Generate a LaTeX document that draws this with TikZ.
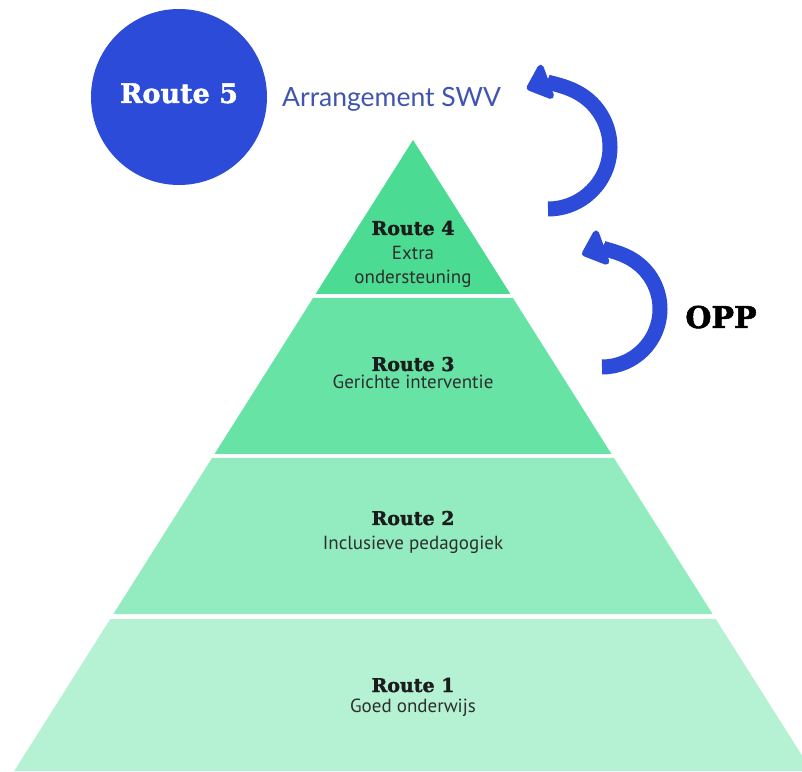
\documentclass[tikz,border=0pt]{standalone}
\usepackage{fontspec}
\usetikzlibrary{arrows.meta}
\newfontfamily\slabfont{DejaVu Serif Bold}[FakeBold=1.6]
\newfontfamily\labelfont{PT Sans}
\newfontfamily\titlefont{Lato}
\definecolor{lvlA}{HTML}{4CDB92}
\definecolor{lvlB}{HTML}{68E3A6}
\definecolor{lvlC}{HTML}{93ECC0}
\definecolor{lvlD}{HTML}{B5F2D4}
\definecolor{routeblue}{HTML}{2C4BD8}
\definecolor{swvblue}{HTML}{3F55B0}
\definecolor{darktxt}{HTML}{1C1C1C}
\definecolor{labtxt}{HTML}{2E2E2E}
\tikzset{
  routetitle/.style={font=\slabfont\fontsize{19}{22}\selectfont, text=darktxt, anchor=base, inner sep=0pt},
  routesub/.style={font=\labelfont\fontsize{19}{22}\selectfont, text=labtxt, anchor=base, inner sep=0pt},
  bluearrow/.style={draw=routeblue, line width=15pt, -{Triangle[length=25pt,width=42pt,round]}},
}
\begin{document}
\begin{tikzpicture}[x=1pt,y=1pt]
\useasboundingbox (0,0) rectangle (802,771);
\fill[white] (0,0) rectangle (802,771);
\begin{scope}
\clip (0,0) rectangle (802,771);
% pyramid layers
\fill[lvlA] (413,631) -- (315.6,477) -- (510.4,477) -- cycle;
\fill[lvlB] (313.1,473) -- (512.9,473) -- (611.5,317) -- (214.5,317) -- cycle;
\fill[lvlC] (212,313) -- (614,313) -- (712.6,157) -- (113.4,157) -- cycle;
\fill[lvlD] (110.3,152) -- (715.7,152) -- (811.8,0) -- (14.2,0) -- cycle;
\end{scope}
% route 5 circle
\node[circle, fill=routeblue, minimum size=176pt, inner sep=0pt] (c5) at (179,674) {};
\node[font=\slabfont\fontsize{27}{30}\selectfont, text=white, anchor=base, inner sep=0pt] (r5) at (179,668) {Route 5};
\node[font=\titlefont\fontsize{26.5}{30}\selectfont, text=swvblue, anchor=base west, inner sep=0pt] (swv) at (282,664) {Arrangement SWV};
% labels
\node[routetitle] (r4) at (413,536) {Route 4};
\node[routesub] (r4a) at (413,511) {Extra};
\node[routesub] (r4b) at (413,487) {ondersteuning};
\node[routetitle] (r3) at (413,400) {Route 3};
\node[routesub] (r3a) at (413,382) {Gerichte interventie};
\node[routetitle] (r2) at (413,246) {Route 2};
\node[routesub] (r2a) at (413,222) {Inclusieve pedagogiek};
\node[routetitle] (r1) at (413,79) {Route 1};
\node[routesub] (r1a) at (413,59) {Goed onderwijs};
\node[font=\slabfont\fontsize{30}{34}\selectfont, text=black, anchor=base, inner sep=0pt] (opp) at (721,443) {OPP};
% arrows
\coordinate (upA) at (548,562);
\coordinate (upB) at (602,404);
\draw[bluearrow] (upA) arc[start angle=-90, end angle=110, radius=62];
\draw[bluearrow] (upB) arc[start angle=-90, end angle=110, radius=58];
\end{tikzpicture}
\end{document}
